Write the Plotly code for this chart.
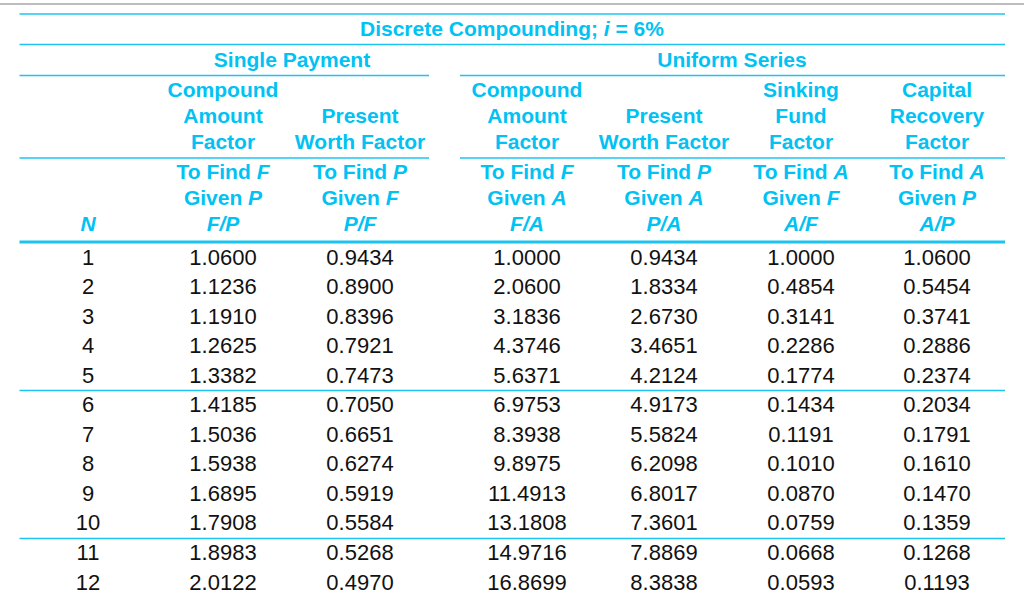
import plotly.graph_objects as go

# ---- data ----
N_vals = [1, 2, 3, 4, 5, 6, 7, 8, 9, 10, 11, 12]
FP = [1.0600, 1.1236, 1.1910, 1.2625, 1.3382, 1.4185, 1.5036, 1.5938, 1.6895, 1.7908, 1.8983, 2.0122]
PF = [0.9434, 0.8900, 0.8396, 0.7921, 0.7473, 0.7050, 0.6651, 0.6274, 0.5919, 0.5584, 0.5268, 0.4970]
FA = [1.0000, 2.0600, 3.1836, 4.3746, 5.6371, 6.9753, 8.3938, 9.8975, 11.4913, 13.1808, 14.9716, 16.8699]
PA = [0.9434, 1.8334, 2.6730, 3.4651, 4.2124, 4.9173, 5.5824, 6.2098, 6.8017, 7.3601, 7.8869, 8.3838]
AF = [1.0000, 0.4854, 0.3141, 0.2286, 0.1774, 0.1434, 0.1191, 0.1010, 0.0870, 0.0759, 0.0668, 0.0593]
AP = [1.0600, 0.5454, 0.3741, 0.2886, 0.2374, 0.2034, 0.1791, 0.1610, 0.1470, 0.1359, 0.1268, 0.1193]

title_text = "Discrete Compounding; <i>i</i> = 6%"
group_labels = ["Single Payment", "Uniform Series"]
factor_names = [
    ["Compound", "Amount", "Factor"],
    ["", "Present", "Worth Factor"],
    ["Compound", "Amount", "Factor"],
    ["", "Present", "Worth Factor"],
    ["Sinking", "Fund", "Factor"],
    ["Capital", "Recovery", "Factor"],
]
find_labels = [
    ["To Find <i>F</i>", "Given <i>P</i>", "<i>F/P</i>"],
    ["To Find <i>P</i>", "Given <i>F</i>", "<i>P/F</i>"],
    ["To Find <i>F</i>", "Given <i>A</i>", "<i>F/A</i>"],
    ["To Find <i>P</i>", "Given <i>A</i>", "<i>P/A</i>"],
    ["To Find <i>A</i>", "Given <i>F</i>", "<i>A/F</i>"],
    ["To Find <i>A</i>", "Given <i>P</i>", "<i>A/P</i>"],
]
n_label = "<i>N</i>"

# ---- layout constants ----
W, H = 1024, 601
CYAN = "#00C2F3"
LINE = "#1CC3F0"
FONT = "Liberation Sans, Arial, sans-serif"
col_x = [223, 360, 527, 664, 801, 937]
n_x = 88
row0_y, row_pitch = 259, 29.55
x_left, x_right = 19.5, 1005
split_l, split_r = 429, 460

fig = go.Figure()

# body values
cols = [FP, PF, FA, PA, AF, AP]
row_y = [row0_y + i * row_pitch for i in range(len(N_vals))]
fig.add_trace(go.Scatter(
    x=[n_x] * len(N_vals), y=row_y, text=[str(n) for n in N_vals],
    mode="text", textfont=dict(family=FONT, size=22, color="#111111"),
    hoverinfo="skip", showlegend=False))
for cx, vals in zip(col_x, cols):
    fig.add_trace(go.Scatter(
        x=[cx] * len(vals), y=row_y, text=[f"{v:.4f}" for v in vals],
        mode="text", textfont=dict(family=FONT, size=22, color="#111111"),
        hoverinfo="skip", showlegend=False))

# header texts
hx, hy, ht = [], [], []
hx.append(512); hy.append(31); ht.append(title_text)
hx += [292, 732]; hy += [62, 62]; ht += group_labels
for cx, lines in zip(col_x, factor_names):
    for k, s in enumerate(lines):
        if s:
            hx.append(cx); hy.append(92 + 26 * k); ht.append(s)
for cx, lines in zip(col_x, find_labels):
    for k, s in enumerate(lines):
        hx.append(cx); hy.append(174 + 26 * k); ht.append(s)
hx.append(n_x); hy.append(226); ht.append(n_label)
fig.add_trace(go.Scatter(
    x=hx, y=hy, text=["<b>" + t + "</b>" for t in ht], mode="text",
    textfont=dict(family=FONT, size=21, color=CYAN),
    hoverinfo="skip", showlegend=False))

# rules
shapes = []
def hline(x0, x1, y, w=1.5, color=LINE):
    shapes.append(dict(type="line", xref="x", yref="y", x0=x0, x1=x1, y0=y, y1=y,
                       line=dict(color=color, width=w)))
hline(0, W, 4, 2, "#BDBDBD")
hline(x_left, x_right, 14)
hline(x_left, x_right, 44.5)
for y in (75.5, 158):
    hline(x_left, split_l, y)
    hline(split_r, x_right, y)
hline(x_left, x_right, 242, 3)
hline(x_left, x_right, 390.5)
hline(x_left, x_right, 538.5)

fig.update_layout(
    width=W, height=H, margin=dict(l=0, r=0, t=0, b=0),
    paper_bgcolor="white", plot_bgcolor="white", shapes=shapes,
    xaxis=dict(range=[0, W], visible=False, fixedrange=True),
    yaxis=dict(range=[H, 0], visible=False, fixedrange=True),
)
fig.write_html("out.html",
               post_script="document.body.style.margin='0';document.body.style.overflow='hidden';",
               config={"displayModeBar": False})
